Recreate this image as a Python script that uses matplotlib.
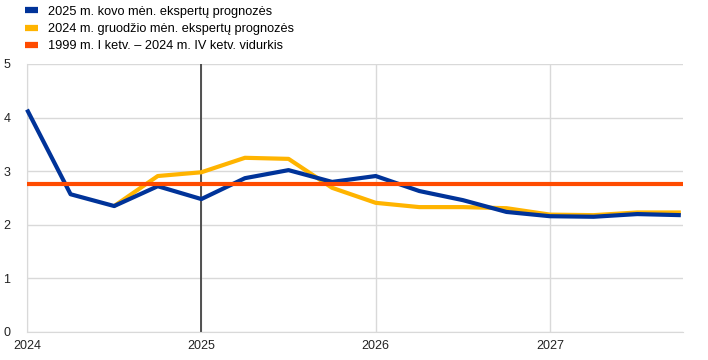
import matplotlib
matplotlib.use("Agg")
import matplotlib.pyplot as plt
from matplotlib.lines import Line2D

plt.rcParams['font.family'] = ['Liberation Sans', 'DejaVu Sans']

quarters = list(range(16))
year_ticks = [0, 4, 8, 12]
year_labels = ["2024", "2025", "2026", "2027"]

march_2025 = [4.15, 2.57, 2.35, 2.72, 2.48, 2.87, 3.02, 2.80, 2.91, 2.63, 2.46, 2.24, 2.16, 2.15, 2.20, 2.18]
dec_2024_q = list(range(2, 16))
dec_2024 = [2.35, 2.91, 2.98, 3.25, 3.23, 2.69, 2.41, 2.33, 2.33, 2.31, 2.19, 2.18, 2.23, 2.23]
avg_1999_2024 = 2.76

labels = ["2025 m. kovo mėn. ekspertų prognozės",
          "2024 m. gruodžio mėn. ekspertų prognozės",
          "1999 m. I ketv. – 2024 m. IV ketv. vidurkis"]
c_blue = "#003399"
c_yellow = "#FFB400"
c_orange = "#FF4B00"

fig = plt.figure(figsize=(7.08, 3.6), dpi=100)
ax = fig.add_axes([27/708, 1-332/360, (683-27)/708, (332-64)/360])

ax.set_xlim(0, 15.05)
ax.set_ylim(0, 5)
ax.set_yticks([0, 1, 2, 3, 4, 5])
ax.set_xticks(year_ticks)
ax.set_xticklabels(year_labels)
ax.grid(True, color="#d9d9d9", linewidth=1)
ax.set_axisbelow(True)
for s in ["top", "right"]:
    ax.spines[s].set_visible(False)
for s in ["left", "bottom"]:
    ax.spines[s].set_color("#d9d9d9")
ax.tick_params(length=0, labelsize=9, colors="#222222")
ax.tick_params(axis="y", pad=12)
ax.tick_params(axis="x", pad=6)

ax.axvline(4, color="#444444", linewidth=1.3, zorder=2)
ax.plot(dec_2024_q, dec_2024, color=c_yellow, linewidth=3, solid_capstyle="butt", zorder=3, clip_on=False)
ax.plot(quarters, march_2025, color=c_blue, linewidth=3, solid_capstyle="butt", zorder=4, clip_on=False)
ax.axhline(avg_1999_2024, color=c_orange, linewidth=3, zorder=5)

handles = [Line2D([], [], color=c, linewidth=4.5, solid_capstyle="butt") for c in (c_blue, c_yellow, c_orange)]
fig.legend(handles, labels, loc="upper left", bbox_to_anchor=(16/708, 1.0 + 3/360), frameon=False,
           fontsize=9.2, handlelength=1.0, handletextpad=0.8, labelspacing=0.4, borderpad=0.2)

fig.savefig("out.png", dpi=100)
